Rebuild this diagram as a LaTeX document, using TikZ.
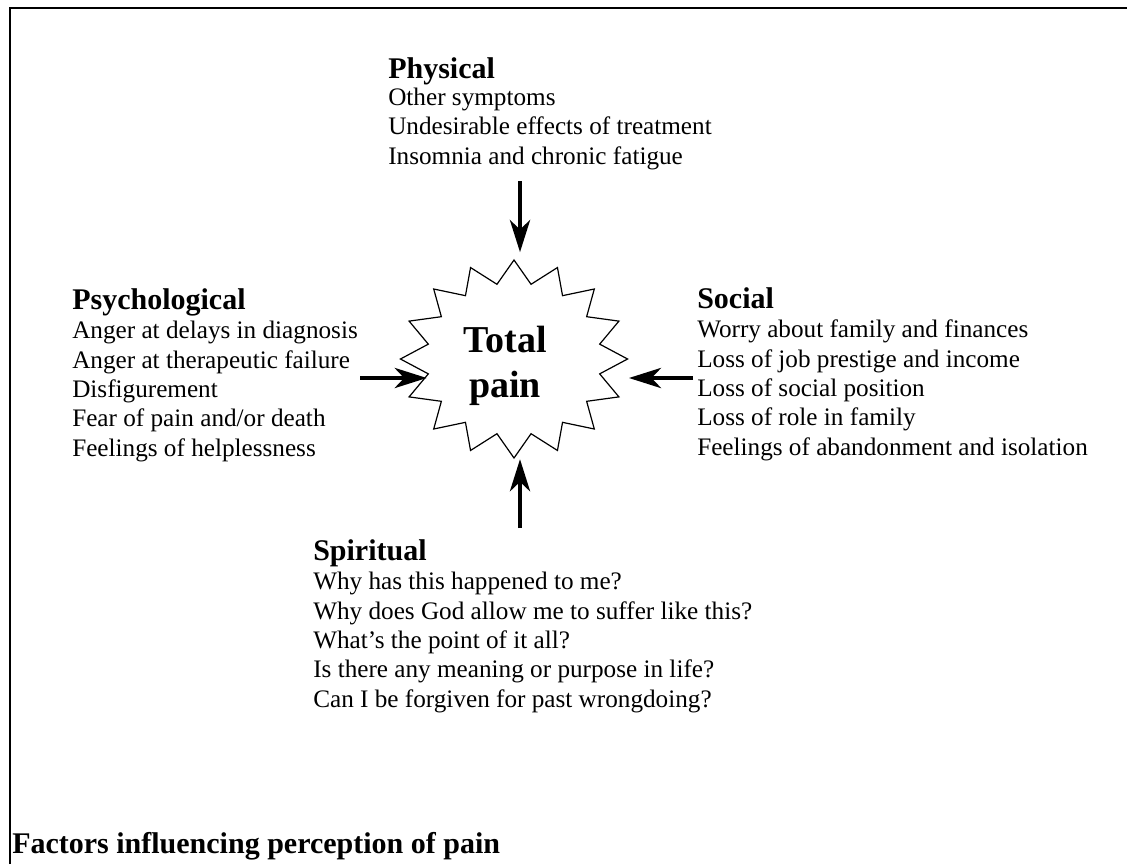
\documentclass[tikz,border=0pt]{standalone}
\usepackage{fontspec}
\setmainfont{Liberation Serif}
\usetikzlibrary{arrows.meta,shapes.geometric}

\newcommand{\factorhead}[1]{{\fontsize{22.5}{24}\selectfont\bfseries #1}}

\begin{document}
\begin{tikzpicture}[
        x=0.75pt, y=-0.75pt,
        factor/.style={anchor=base west, align=left, inner sep=0pt, font=\fontsize{18.9}{22}\selectfont},
        heading/.style={inner sep=0pt, font=\fontsize{22.5}{24}\selectfont\bfseries},
        painstar/.style={star, star points=16, star point ratio=1.3, draw=black, line width=0.9pt, minimum size=148.5pt, inner sep=0pt, xscale=1.147},
        paintext/.style={align=center, inner sep=0pt, anchor=base, font=\fontsize{28.5}{33.75}\selectfont\bfseries},
        inarrow/.style={-{Stealth[length=24pt, width=15pt, inset=7pt]}, line width=3.6pt}
    ]
    \useasboundingbox (0,0) rectangle (1127,864);
    \draw[line width=1.3pt] (10,864) -- (10,8) -- (1127,8);

    % centre (base anchors sit on the last line)
    \node[painstar] (star) at (514,359) {};
    \node[paintext] (pain) at (505,397) {Total\\pain};

    \node[factor] (physical) at (388,164) {\factorhead{Physical}\\[-2pt]
        Other symptoms\\
        Undesirable effects of treatment\\
        Insomnia and chronic fatigue};

    \node[factor] (psychological) at (72,456) {\factorhead{Psychological}\\
        Anger at delays in diagnosis\\
        Anger at therapeutic failure\\
        Disfigurement\\
        Fear of pain and/or death\\
        Feelings of helplessness};

    \node[factor] (social) at (697,455) {\factorhead{Social}\\
        Worry about family and finances\\
        Loss of job prestige and income\\
        Loss of social position\\
        Loss of role in family\\
        Feelings of abandonment and isolation};

    \node[factor] (spiritual) at (313,707) {\factorhead{Spiritual}\\
        Why has this happened to me?\\
        Why does God allow me to suffer like this?\\
        What’s the point of it all?\\
        Is there any meaning or purpose in life?\\
        Can I be forgiven for past wrongdoing?};

    \node[heading, anchor=base west] (title) at (12,853) {Factors influencing perception of pain};

    % arrows into the star
    \coordinate (physTail) at (520,181);
    \coordinate (psychTail) at (360,378);
    \coordinate (socialTail) at (693,378);
    \coordinate (spiritTail) at (520,528);

    \draw[inarrow, shorten >=5pt] (physTail) -- (physTail |- star.north);
    \draw[inarrow] (psychTail) -- (psychTail -| star.191.25);
    \draw[inarrow] (socialTail) -- (socialTail -| star.east);
    \draw[inarrow] (spiritTail) -- (spiritTail |- star.south);
\end{tikzpicture}
\end{document}
